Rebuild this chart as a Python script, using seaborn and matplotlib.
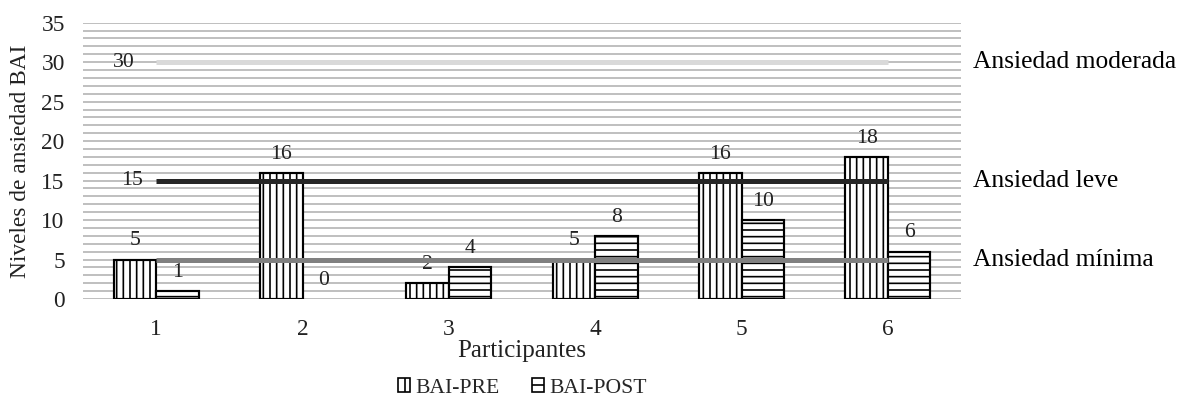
import matplotlib
matplotlib.use("Agg")
import matplotlib.pyplot as plt
import matplotlib.transforms as mtransforms
from matplotlib.patches import Patch
import numpy as np
import pandas as pd
import seaborn as sns

# Puntuaciones BAI por participante
participantes = ["1", "2", "3", "4", "5", "6"]
bai_pre = [5, 16, 2, 5, 16, 18]
bai_post = [1, 0, 4, 8, 10, 6]

# Puntos de corte de la escala BAI
cortes = [30, 15, 5]
cortes_nombres = ["Ansiedad moderada", "Ansiedad leve", "Ansiedad mínima"]
cortes_colores = ["#d9d9d9", "#262626", "#808080"]
cortes_etiqueta = [True, True, False]

series = ["BAI-PRE", "BAI-POST"]

df = pd.DataFrame({
    "Participantes": participantes * 2,
    "Puntuación": bai_pre + bai_post,
    "Serie": [series[0]] * len(participantes) + [series[1]] * len(participantes),
})

sns.set_theme(style="white")
plt.rcParams["font.family"] = ["Liberation Serif", "DejaVu Serif"]
plt.rcParams["hatch.linewidth"] = 1.0
plt.rcParams["hatch.color"] = "black"

fig = plt.figure(figsize=(9.9, 3.325), dpi=120)
ax = fig.add_axes([0.0699, 0.2506, 0.7391, 0.6925])

sns.barplot(
    data=df, x="Participantes", y="Puntuación", hue="Serie",
    palette=["white", "white"], edgecolor="black", linewidth=1.3,
    width=0.58, gap=0, ax=ax, legend=False, zorder=2,
)

hatches = ["|||", "---"]
for cont, h in zip(ax.containers, hatches):
    for bar in cont:
        bar.set_hatch(h)
        bar.set_edgecolor("black")
        if bar.get_height() == 0:
            bar.set_linewidth(0)
    ax.bar_label(cont, padding=5.5, fontsize=13, color="#222222")

# Líneas de corte entre el primer y el último participante
xpos = np.arange(len(participantes))
trans = mtransforms.blended_transform_factory(ax.transAxes, ax.transData)
for valor, nombre, color, etiqueta, dx in zip(cortes, cortes_nombres, cortes_colores,
                                              cortes_etiqueta, [-13, -8, -8]):
    ax.plot(xpos, [valor] * len(xpos), color=color, lw=3, zorder=4,
            solid_capstyle="butt")
    if etiqueta:
        ax.annotate(str(valor), xy=(xpos[0], valor), xytext=(dx, 0),
                    textcoords="offset points", ha="right", va="center",
                    fontsize=13, color="#222222", zorder=5)
    ax.text(1.0137, valor, nombre, transform=trans, ha="left", va="center",
            fontsize=15.3, color="black")

ax.set_xlim(-0.5, len(participantes) - 0.5)
ax.set_ylim(0, 35)
ax.set_yticks(range(0, 36, 5))
ax.set_yticks(range(0, 36, 1), minor=True)
ax.grid(axis="y", which="both", color="#c0c0c0", lw=1.2, zorder=0)
ax.set_axisbelow(True)
for s in ax.spines.values():
    s.set_visible(False)
ax.tick_params(axis="both", which="both", length=0)
ax.tick_params(axis="x", pad=12, labelsize=14, labelcolor="#222222")
ax.tick_params(axis="y", pad=11, labelsize=14, labelcolor="#222222")

ax.set_xlabel("Participantes", fontsize=15, color="#222222", labelpad=0)
ax.set_ylabel("Niveles de ansiedad BAI", fontsize=14, color="#222222", labelpad=6)

handles = [Patch(facecolor="white", edgecolor="black", hatch=h, lw=1.0) for h in ["||", "--"]]
fig.legend(handles, series, loc="center", bbox_to_anchor=(0.44, 0.028),
           ncol=2, frameon=False, fontsize=13, handlelength=0.55,
           handleheight=0.6, handletextpad=0.25, columnspacing=1.5)

fig.savefig("out.png", dpi=120, facecolor="white")
